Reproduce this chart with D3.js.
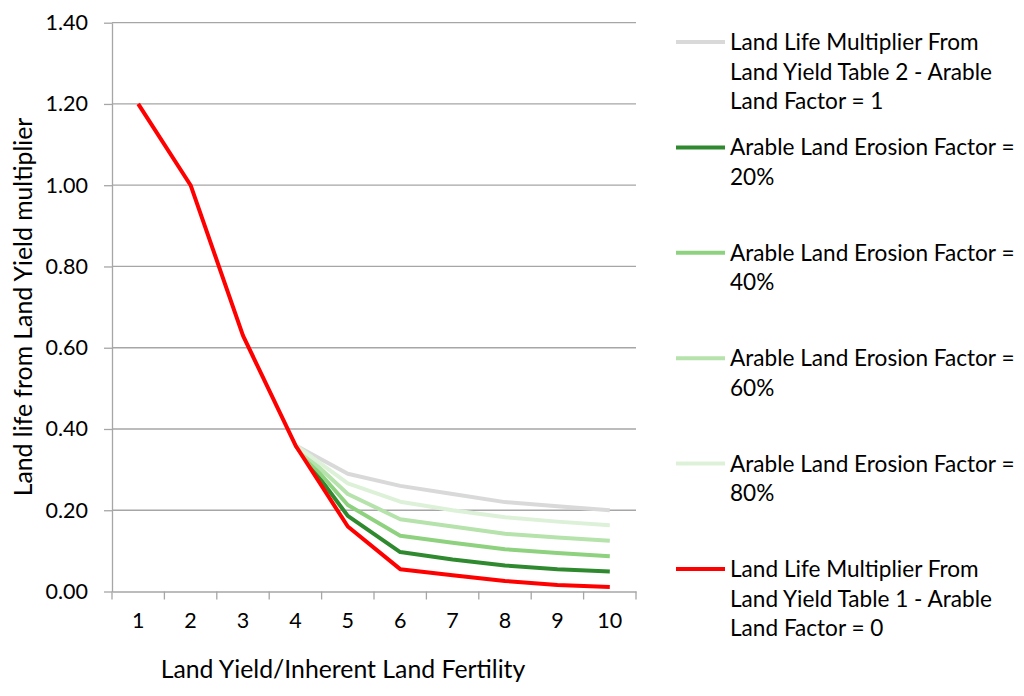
<!DOCTYPE html>
<html>
<head>
<meta charset="utf-8">
<script src="https://cdn.jsdelivr.net/npm/d3@7"></script>
<style>
    body { margin: 0; background: #fff; }
    svg { display: block; font-family: Lato, "Noto Sans", sans-serif; }
</style>
</head>
<body>
<script>
// 横轴类别
const categories = [1, 2, 3, 4, 5, 6, 7, 8, 9, 10];

// 各条曲线的数据（null 表示该点没有值）
const table2 = [null, null, null, 0.36, 0.29, 0.26, 0.24, 0.22, 0.21, 0.20];
const erosion20 = [null, null, null, 0.36, 0.186, 0.097, 0.079, 0.064, 0.055, 0.049];
const erosion40 = [null, null, null, 0.36, 0.213, 0.137, 0.12, 0.104, 0.095, 0.087];
const erosion60 = [null, null, null, 0.36, 0.24, 0.178, 0.16, 0.142, 0.133, 0.125];
const erosion80 = [null, null, null, 0.36, 0.266, 0.221, 0.20, 0.183, 0.172, 0.163];
const table1 = [1.2, 1.0, 0.63, 0.36, 0.16, 0.055, 0.04, 0.026, 0.016, 0.011];

// 纵轴刻度
const yTicks = [0, 0.2, 0.4, 0.6, 0.8, 1.0, 1.2, 1.4];

// 图例文字
const legendLabels = [
    ['Land Life Multiplier From', 'Land Yield Table 2 - Arable', 'Land Factor = 1'],
    ['Arable Land Erosion Factor =', '20%'],
    ['Arable Land Erosion Factor =', '40%'],
    ['Arable Land Erosion Factor =', '60%'],
    ['Arable Land Erosion Factor =', '80%'],
    ['Land Life Multiplier From', 'Land Yield Table 1 - Arable', 'Land Factor = 0']
];
const colors = ['#d9d9d9', '#2f8a2f', '#8ed27f', '#b6e2ac', '#ddf1d8', '#ff0000'];
const series = [table2, erosion20, erosion40, erosion60, erosion80, table1];

// svg区域大小
const width = 1024;
const height = 696;
const plot = {
    left: 112,
    right: 636,
    top: 22.7,
    bottom: 591.5
};

const svg = d3.select('body')
    .append('svg')
    .attr('width', width)
    .attr('height', height);

const x = d3.scaleBand()
    .domain(categories)
    .range([plot.left, plot.right])
    .padding(0);

const y = d3.scaleLinear()
    .domain([0, 1.4])
    .range([plot.bottom, plot.top]);

// 网格线
svg.append('g')
    .selectAll('line')
    .data(yTicks.slice(1))
    .join('line')
    .attr('x1', plot.left)
    .attr('x2', plot.right)
    .attr('y1', d => y(d))
    .attr('y2', d => y(d))
    .attr('stroke', '#a6a6a6')
    .attr('stroke-width', 1.3);

// 纵轴
const yAxis = svg.append('g')
    .attr('transform', `translate(${plot.left},0)`)
    .call(d3.axisLeft(y).tickValues(yTicks).tickFormat(d3.format('.2f')).tickSize(8).tickSizeOuter(0).tickPadding(16));
yAxis.select('.domain').attr('stroke', '#a6a6a6').attr('stroke-width', 1.3);
yAxis.selectAll('.tick line').attr('stroke', '#a6a6a6').attr('stroke-width', 1.3);
yAxis.selectAll('text')
    .attr('font-size', '21.5px')
    .attr('fill', '#000')
    .attr('font-family', 'Lato, sans-serif');

// 横轴
const xAxis = svg.append('g')
    .attr('transform', `translate(0,${plot.bottom})`)
    .call(d3.axisBottom(x).tickSize(0).tickPadding(21));
xAxis.select('.domain').attr('stroke', '#a6a6a6').attr('stroke-width', 1.3);
xAxis.selectAll('text')
    .attr('font-size', '21.5px')
    .attr('fill', '#000')
    .attr('font-family', 'Lato, sans-serif');

// 横轴刻度线（在类别之间）
const edges = categories.map(c => x(c)).concat([x(categories[categories.length - 1]) + x.bandwidth()]);
svg.append('g')
    .selectAll('line')
    .data(edges)
    .join('line')
    .attr('x1', d => d)
    .attr('x2', d => d)
    .attr('y1', plot.bottom)
    .attr('y2', plot.bottom + 8)
    .attr('stroke', '#a6a6a6')
    .attr('stroke-width', 1.3);

// 折线
const line = d3.line()
    .defined(d => d !== null)
    .x((d, i) => x(categories[i]) + x.bandwidth() / 2)
    .y(d => y(d));

svg.append('g')
    .selectAll('path')
    .data(series)
    .join('path')
    .attr('d', d => line(d))
    .attr('fill', 'none')
    .attr('stroke', (d, i) => colors[i])
    .attr('stroke-width', 4)
    .attr('stroke-linejoin', 'round');

// 图例
const legendY = [42, 147.4, 252.8, 358.2, 463.6, 569];
const legend = svg.append('g')
    .selectAll('g')
    .data(legendLabels)
    .join('g')
    .attr('transform', (d, i) => `translate(676,${legendY[i]})`);

legend.append('line')
    .attr('x1', 0)
    .attr('x2', 49)
    .attr('stroke', (d, i) => colors[i])
    .attr('stroke-width', 4);

legend.append('text')
    .attr('font-size', '22.6px')
    .attr('fill', '#000')
    .selectAll('tspan')
    .data(d => d)
    .join('tspan')
    .attr('x', 54)
    .attr('y', (d, i) => 8 + i * 29.5)
    .text(d => d);

// 坐标轴标题
svg.append('text')
    .attr('x', 343)
    .attr('y', 678)
    .attr('text-anchor', 'middle')
    .attr('font-size', '24.8px')
    .attr('fill', '#000')
    .text('Land Yield/Inherent Land Fertility');

svg.append('text')
    .attr('transform', 'translate(32,307) rotate(-90)')
    .attr('text-anchor', 'middle')
    .attr('font-size', '24.8px')
    .attr('fill', '#000')
    .text('Land life from Land Yield multiplier');
</script>
</body>
</html>
